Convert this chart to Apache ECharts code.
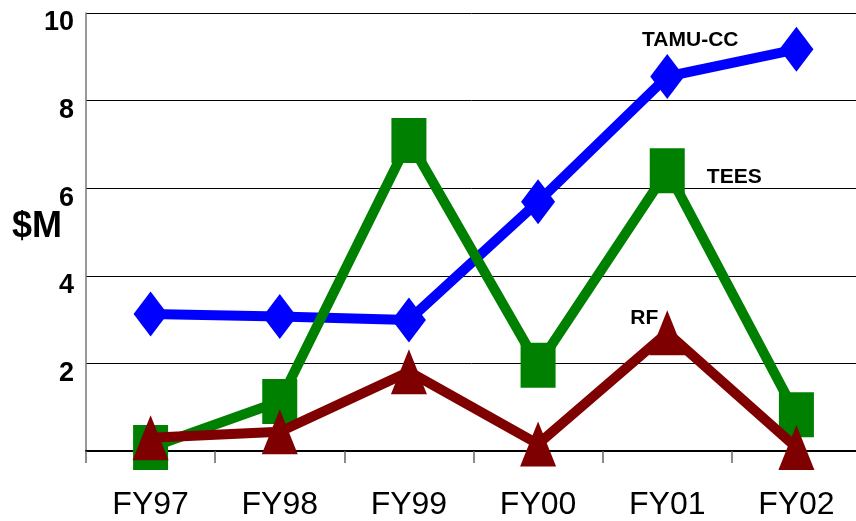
<!DOCTYPE html>
<html>
<head>
<meta charset="utf-8">
<script src="https://cdn.jsdelivr.net/npm/echarts@6/dist/echarts.min.js"></script>
<style>
html,body{margin:0;padding:0;background:#fff;}
#chart{width:856px;height:521px;}
</style>
</head>
<body>
<div id="chart"></div>
<script>
var categories = ['FY97', 'FY98', 'FY99', 'FY00', 'FY01', 'FY02'];
var tamuValues = [3.13, 3.07, 2.99, 5.69, 8.55, 9.17];
var teesValues = [0.08, 1.13, 7.09, 1.96, 6.40, 0.83];
var rfValues = [0.30, 0.44, 1.81, 0.16, 2.70, 0.08];
var yTicks = [0, 2, 4, 6, 8, 10];
var yAxisTitle = '$M';

var chart = echarts.init(document.getElementById('chart'));

function labelled(values, idx, text, offset) {
  return values.map(function (v, i) {
    if (i !== idx) return v;
    return {
      value: v,
      label: {
        show: true, formatter: text, position: 'inside', offset: offset,
        color: '#000', fontFamily: 'Liberation Sans', fontWeight: 'bold', fontSize: 21
      }
    };
  });
}

chart.setOption({
  animation: false,
  backgroundColor: '#fff',
  grid: { left: 86, top: 13, width: 775, height: 438, containLabel: false, outerBoundsMode: 'none' },
  graphic: [{
    type: 'text', left: 12, top: 209, z: 10,
    style: { text: yAxisTitle, fill: '#000', font: 'bold 36px "Liberation Sans"' }
  }],
  xAxis: {
    type: 'category',
    data: categories,
    boundaryGap: true,
    axisLine: { lineStyle: { color: '#000', width: 2 } },
    axisTick: { show: true, length: 12, lineStyle: { color: '#666', width: 1.5 } },
    axisLabel: { color: '#000', fontFamily: 'Liberation Sans', fontSize: 32, margin: 38 }
  },
  yAxis: {
    type: 'value',
    min: yTicks[0], max: yTicks[yTicks.length - 1], interval: 2,
    axisLine: { show: true, lineStyle: { color: '#777', width: 1.5 } },
    axisTick: { show: false },
    axisLabel: {
      color: '#000', fontFamily: 'Liberation Sans', fontWeight: 'bold', fontSize: 27, margin: 12,
      verticalAlign: 'top', lineHeight: 20,
      formatter: function (v) { return v === 0 ? '' : String(v); }
    },
    splitLine: { show: true, lineStyle: { color: '#000', width: 1 } }
  },
  series: [
    {
      name: 'TAMU-CC', type: 'line',
      data: labelled(tamuValues, 4, 'TAMU-CC', [23, -36]),
      symbol: 'diamond', symbolSize: [34, 45],
      lineStyle: { color: '#0000ff', width: 10 },
      itemStyle: { color: '#0000ff' }, z: 2
    },
    {
      name: 'TEES', type: 'line',
      data: labelled(teesValues, 4, 'TEES', [67, 7]),
      symbol: 'rect', symbolSize: [35, 45],
      lineStyle: { color: '#008000', width: 10 },
      itemStyle: { color: '#008000' }, z: 3
    },
    {
      name: 'RF', type: 'line',
      data: labelled(rfValues, 4, 'RF', [-23, -15]),
      symbol: 'triangle', symbolSize: [36, 45],
      lineStyle: { color: '#7f0000', width: 10 },
      itemStyle: { color: '#7f0000' }, z: 4
    }
  ]
});
</script>
</body>
</html>
